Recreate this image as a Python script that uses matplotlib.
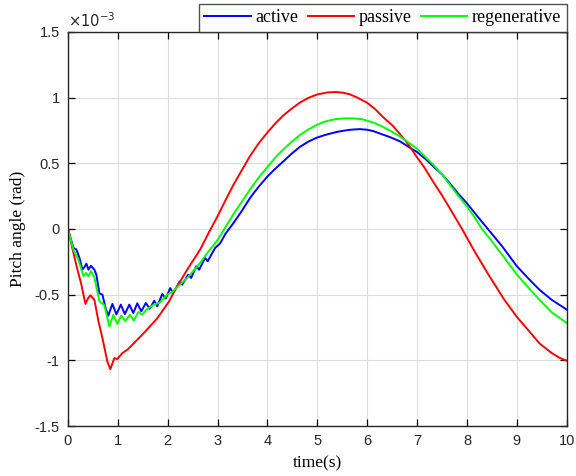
import matplotlib
matplotlib.use("Agg")
import matplotlib.pyplot as plt
import numpy as np

# values, pitch angle in units of 1e-3 rad
t_active = [0, 0.06, 0.11, 0.17, 0.23, 0.29, 0.33, 0.37, 0.41, 0.46, 0.53, 0.57,
            0.63, 0.69, 0.76, 0.81, 0.89, 0.97, 1.06, 1.14, 1.23, 1.31, 1.39, 1.47,
            1.56, 1.64, 1.73, 1.79, 1.89, 1.96, 2.05, 2.11, 2.24, 2.29, 2.41, 2.47,
            2.57, 2.63, 2.75, 2.80, 2.95, 3.05, 3.16, 3.32, 3.49, 3.65, 3.82, 4.0,
            4.16, 4.32, 4.49, 4.65, 4.82, 4.99, 5.15, 5.32, 5.45, 5.65, 5.85, 6.0,
            6.12, 6.3, 6.45, 6.65, 6.85, 7.0, 7.16, 7.32, 7.5, 7.65, 7.82, 8.0,
            8.2, 8.4, 8.7, 9.0, 9.25, 9.45, 9.7, 10]
active = [0, -0.08, -0.145, -0.157, -0.22, -0.31, -0.29, -0.264, -0.31, -0.28, -0.31, -0.35,
          -0.49, -0.50, -0.61, -0.66, -0.57, -0.65, -0.576, -0.648, -0.576, -0.64, -0.566, -0.627,
          -0.564, -0.607, -0.546, -0.589, -0.495, -0.53, -0.45, -0.488, -0.40, -0.424, -0.348, -0.373,
          -0.284, -0.31, -0.22, -0.246, -0.145, -0.11, -0.035, 0.046, 0.14, 0.236, 0.32, 0.40,
          0.46, 0.515, 0.575, 0.625, 0.665, 0.695, 0.715, 0.732, 0.743, 0.755, 0.76, 0.755,
          0.745, 0.72, 0.70, 0.668, 0.62, 0.585, 0.535, 0.478, 0.415, 0.35, 0.27, 0.195,
          0.10, 0.008, -0.13, -0.284, -0.385, -0.462, -0.54, -0.614]

t_passive = [0, 0.09, 0.19, 0.26, 0.35, 0.40, 0.45, 0.53, 0.61, 0.69, 0.79, 0.85,
             0.93, 0.99, 1.09, 1.19, 1.49, 1.79, 2.03, 2.15, 2.39, 2.65, 2.82, 3.0,
             3.16, 3.32, 3.49, 3.65, 3.82, 4.0, 4.15, 4.32, 4.5, 4.65, 4.82, 5.0,
             5.2, 5.37, 5.5, 5.65, 5.8, 6.0, 6.15, 6.32, 6.5, 6.65, 6.82, 6.99,
             7.15, 7.32, 7.5, 7.65, 7.9, 8.15, 8.45, 8.75, 9.0, 9.25, 9.45, 9.7,
             9.85, 10]
passive = [0, -0.15, -0.31, -0.41, -0.57, -0.53, -0.505, -0.54, -0.70, -0.83, -1.01, -1.067,
           -0.983, -0.99, -0.945, -0.92, -0.805, -0.68, -0.55, -0.462, -0.31, -0.157, -0.03, 0.097,
           0.22, 0.338, 0.45, 0.555, 0.65, 0.735, 0.80, 0.865, 0.92, 0.962, 0.998, 1.024,
           1.039, 1.042, 1.038, 1.025, 1.0, 0.96, 0.915, 0.85, 0.79, 0.725, 0.645, 0.55,
           0.465, 0.36, 0.255, 0.16, 0.0, -0.17, -0.36, -0.54, -0.67, -0.78, -0.87, -0.945,
           -0.98, -1.003]

t_regen = [0, 0.11, 0.21, 0.31, 0.36, 0.41, 0.46, 0.53, 0.63, 0.73, 0.83, 0.91,
           0.99, 1.07, 1.15, 1.24, 1.32, 1.41, 1.49, 1.57, 1.72, 1.83, 1.99, 2.09,
           2.17, 2.39, 2.65, 2.82, 3.0, 3.16, 3.32, 3.49, 3.65, 3.82, 4.0, 4.16,
           4.32, 4.49, 4.65, 4.82, 4.99, 5.15, 5.32, 5.5, 5.7, 5.9, 6.12, 6.3,
           6.45, 6.65, 6.82, 7.0, 7.16, 7.32, 7.5, 7.65, 7.82, 8.0, 8.15, 8.3,
           8.45, 8.75, 9.0, 9.25, 9.45, 9.7, 10]
regen = [0, -0.16, -0.235, -0.36, -0.335, -0.36, -0.32, -0.37, -0.55, -0.58, -0.742, -0.653,
         -0.724, -0.658, -0.703, -0.653, -0.696, -0.632, -0.653, -0.614, -0.576, -0.564, -0.50, -0.48,
         -0.45, -0.373, -0.259, -0.17, -0.085, 0.015, 0.114, 0.21, 0.30, 0.39, 0.472, 0.545,
         0.607, 0.665, 0.715, 0.758, 0.792, 0.817, 0.833, 0.841, 0.842, 0.835, 0.81, 0.78,
         0.75, 0.705, 0.66, 0.61, 0.55, 0.49, 0.415, 0.34, 0.255, 0.17, 0.09, 0.0,
         -0.07, -0.22, -0.348, -0.455, -0.538, -0.635, -0.716]

plt.rcParams['axes.unicode_minus'] = False

fig = plt.figure(figsize=(5.76, 4.76), dpi=100)
ax = fig.add_axes([0.118, 0.105, 0.866, 0.828])

ax.plot(t_active, active, color=(0, 0, 1), lw=1.4, label="active")
ax.plot(t_passive, passive, color=(1, 0, 0), lw=1.4, label="passive")
ax.plot(t_regen, regen, color=(0, 1, 0), lw=1.4, label="regenerative")

ax.set_xlim(0, 10)
ax.set_ylim(-1.5, 1.5)
ax.set_xticks(np.arange(0, 11, 1))
ax.set_yticks(np.arange(-1.5, 1.6, 0.5))
ax.yaxis.set_major_formatter(plt.FuncFormatter(lambda v, p: "%g" % v))
ax.grid(True, color="#dcdcdc", lw=0.8)
ax.set_axisbelow(True)
ax.tick_params(direction="in", top=True, right=True, length=5, width=0.9,
               labelsize=10.5, labelcolor="#262626", pad=6)
for lab in ax.get_xticklabels() + ax.get_yticklabels():
    lab.set_family("Liberation Sans")
for s in ax.spines.values():
    s.set_linewidth(1.0)
    s.set_color("#262626")

ax.text(0.0, 1.006, r"$\times10^{-3}$", transform=ax.transAxes, fontsize=10.5,
        color="#262626", ha="left", va="bottom", family="Liberation Sans")

ax.set_xlabel("time(s)", family="Liberation Serif", fontsize=12.5, labelpad=5)
ax.set_ylabel("Pitch angle (rad)", family="Liberation Serif", fontsize=12.5, labelpad=6)

leg = ax.legend(loc="lower right", bbox_to_anchor=(1.0, 1.0), ncol=3, borderaxespad=0,
                frameon=True, fancybox=False, edgecolor="#262626", handlelength=2.55,
                columnspacing=0.55, handletextpad=0.25, borderpad=0.3,
                prop={"family": "Liberation Serif", "size": 13})
leg.get_frame().set_linewidth(1.0)

plt.savefig("out.png", dpi=100)
plt.close()
